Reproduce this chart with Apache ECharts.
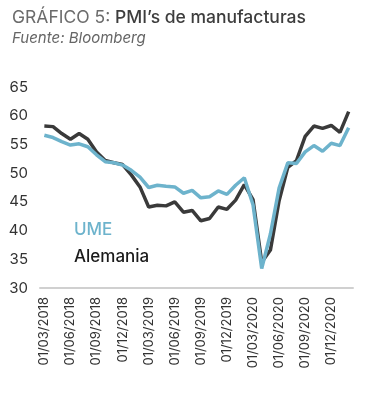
<!DOCTYPE html>
<html><head><meta charset="utf-8">
<script src="https://cdn.jsdelivr.net/npm/echarts@6/dist/echarts.min.js"></script>
<style>html,body{margin:0;padding:0;background:#fff}#c{width:374px;height:396px}</style>
</head><body><div id="c"></div>
<script>
const categories = ['01/03/2018','01/04/2018','01/05/2018','01/06/2018','01/07/2018','01/08/2018','01/09/2018','01/10/2018','01/11/2018','01/12/2018',
'01/01/2019','01/02/2019','01/03/2019','01/04/2019','01/05/2019','01/06/2019','01/07/2019','01/08/2019','01/09/2019','01/10/2019','01/11/2019','01/12/2019',
'01/01/2020','01/02/2020','01/03/2020','01/04/2020','01/05/2020','01/06/2020','01/07/2020','01/08/2020','01/09/2020','01/10/2020','01/11/2020','01/12/2020',
'01/01/2021','01/02/2021'];
const ume = [56.6,56.2,55.5,54.9,55.1,54.6,53.2,52.0,51.8,51.4,50.5,49.3,47.5,47.9,47.7,47.6,46.5,47.0,45.7,45.9,46.9,46.3,47.9,49.2,44.5,33.4,39.4,47.4,51.8,51.7,53.7,54.8,53.8,55.2,54.8,57.9];
const alemania = [58.2,58.1,56.9,55.9,56.9,55.9,53.7,52.2,51.8,51.5,49.7,47.6,44.1,44.4,44.3,45.0,43.2,43.5,41.7,42.1,44.1,43.7,45.3,48.0,45.4,34.5,36.6,45.2,51.0,52.2,56.4,58.2,57.8,58.3,57.1,60.7];
const seriesNames = ['UME','Alemania'];
const titleMain = 'GRÁFICO 5: ';
const titleBold = 'PMI’s de manufacturas';
const subtitle = 'Fuente: Bloomberg';

const FONT = 'Inter, Lato, sans-serif';
const chart = echarts.init(document.getElementById('c'), null, {renderer:'canvas'});
chart.setOption({
  backgroundColor:'#fff',
  animation:false,
  title:{
    text:'{a|'+titleMain+'}{b|'+titleBold+'}',
    subtext:subtitle,
    left:7, top:4, itemGap:4,
    textStyle:{rich:{
      a:{fontFamily:FONT,fontSize:17.5,color:'#6b6b6b',fontWeight:'normal'},
      b:{fontFamily:FONT,fontSize:17.5,color:'#3d3d3d',fontWeight:500}
    }},
    subtextStyle:{fontFamily:FONT,fontSize:15,fontStyle:'italic',color:'#666'}
  },
  grid:{left:40,right:21,top:87,bottom:108,containLabel:false},
  xAxis:{
    type:'category', data:categories, boundaryGap:true,
    axisLine:{lineStyle:{color:'#d0d0d0',width:2}},
    axisTick:{show:false},
    axisLabel:{rotate:90,interval:2,margin:9,fontFamily:FONT,fontSize:13,color:'#333'}
  },
  yAxis:{
    type:'value', min:30, max:65, interval:5,
    axisLine:{show:false}, axisTick:{show:false}, splitLine:{show:false},
    axisLabel:{margin:12,fontFamily:FONT,fontSize:15,color:'#333'}
  },
  series:[
    {name:seriesNames[1],type:'line',data:alemania,symbol:'none',lineStyle:{color:'#3a3a3a',width:3.5},z:2},
    {name:seriesNames[0],type:'line',data:ume,symbol:'none',lineStyle:{color:'#6db3cc',width:3.5},z:3}
  ],
  graphic:[
    {type:'text',left:74,top:221,style:{text:seriesNames[0],fontFamily:FONT,fontSize:17,fontWeight:500,fill:'#6db3cc'}},
    {type:'text',left:74,top:248,style:{text:seriesNames[1],fontFamily:FONT,fontSize:17,fontWeight:500,fill:'#1a1a1a'}}
  ]
});
</script></body></html>
